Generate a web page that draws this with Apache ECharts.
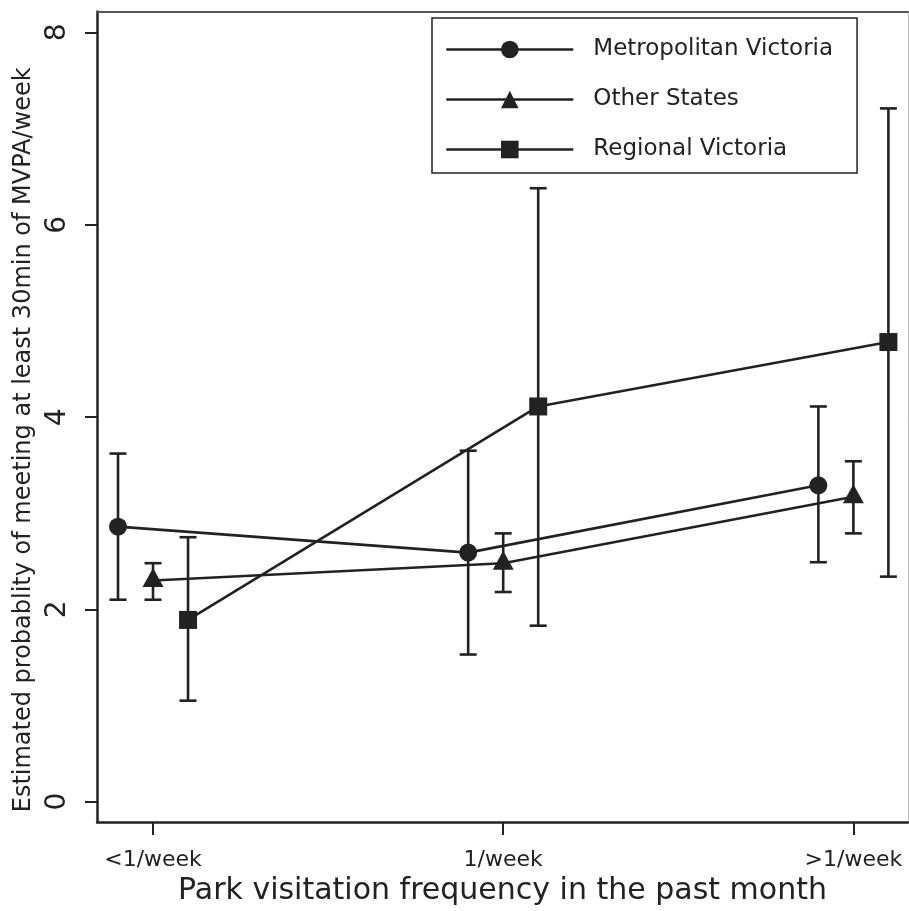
<!DOCTYPE html>
<html>
<head>
<meta charset="utf-8">
<script src="https://cdn.jsdelivr.net/npm/echarts@6/dist/echarts.min.js"></script>
<style>
  html, body { margin: 0; padding: 0; background: #fff; }
  #chart { width: 909px; height: 911px; }
</style>
</head>
<body>
<div id="chart"></div>
<script>
// ---- Data ----
const categories = ['<1/week', '1/week', '>1/week'];
const categoryPositions = [1, 2, 3];
const yTicks = [0, 2, 4, 6, 8];

const regionNames = ['Metropolitan Victoria', 'Other States', 'Regional Victoria'];
const regionOffsets = [-0.1, 0, 0.1];

const metroEst  = [2.86, 2.59, 3.29];
const metroLow  = [2.10, 1.53, 2.49];
const metroHigh = [3.62, 3.65, 4.11];

const otherEst  = [2.30, 2.48, 3.17];
const otherLow  = [2.10, 2.18, 2.79];
const otherHigh = [2.48, 2.79, 3.54];

const regionalEst  = [1.89, 4.11, 4.78];
const regionalLow  = [1.05, 1.83, 2.34];
const regionalHigh = [2.75, 6.38, 7.21];

const xAxisTitle = 'Park visitation frequency in the past month';
const yAxisTitle = 'Estimated probablity of meeting at least 30min of MVPA/week';

// ---- Build series ----
const INK = '#222';
const FONT = 'DejaVu Sans';
const ests = [metroEst, otherEst, regionalEst];
const lows = [metroLow, otherLow, regionalLow];
const highs = [metroHigh, otherHigh, regionalHigh];
const symbols = ['circle', 'triangle', 'rect'];
const symbolSizes = [18, [21, 19], 18];
const symbolOffsets = [[0, 0], [0, -3], [0, 0]];

const series = [];
regionNames.forEach((name, i) => {
  series.push({
    name: name + ' CI',
    type: 'custom',
    z: 2,
    silent: true,
    encode: { x: 0, y: [1, 2] },
    data: categoryPositions.map((c, k) => [c + regionOffsets[i], lows[i][k], highs[i][k]]),
    renderItem: (params, api) => {
      const x = api.value(0);
      const lo = api.coord([x, api.value(1)]);
      const hi = api.coord([x, api.value(2)]);
      const w = 8.5;
      const st = { stroke: INK, lineWidth: 2.6 };
      return {
        type: 'group',
        children: [
          { type: 'line', shape: { x1: lo[0], y1: lo[1], x2: hi[0], y2: hi[1] }, style: st },
          { type: 'line', shape: { x1: lo[0] - w, y1: lo[1], x2: lo[0] + w, y2: lo[1] }, style: st },
          { type: 'line', shape: { x1: hi[0] - w, y1: hi[1], x2: hi[0] + w, y2: hi[1] }, style: st }
        ]
      };
    }
  });
});
regionNames.forEach((name, i) => {
  series.push({
    name: name,
    type: 'line',
    z: 3,
    symbol: symbols[i],
    symbolSize: symbolSizes[i],
    symbolOffset: symbolOffsets[i],
    showSymbol: true,
    lineStyle: { color: INK, width: 2.6 },
    itemStyle: { color: INK },
    emphasis: { disabled: true },
    data: categoryPositions.map((c, k) => [c + regionOffsets[i], ests[i][k]])
  });
});

const xMin = 0.84, xMax = 3.156, yMin = -0.213, yMax = 8.218;

const chart = echarts.init(document.getElementById('chart'), null, { renderer: 'canvas' });
chart.setOption({
  animation: false,
  backgroundColor: '#fff',
  textStyle: { fontFamily: FONT, color: INK },
  grid: { left: 97, right: 1, top: 11.5, bottom: 87, containLabel: false },
  legend: {
    data: regionNames,
    orient: 'vertical',
    left: 432,
    top: 18,
    itemWidth: 127,
    itemHeight: 22,
    itemGap: 27,
    padding: [20, 24, 12, 13],
    borderColor: INK,
    borderWidth: 1.5,
    selectedMode: false,
    lineStyle: { width: 2.6, color: INK },
    textStyle: { fontFamily: FONT, fontSize: 23, color: INK, padding: [0, 0, 0, 15] }
  },
  xAxis: [
    {
      type: 'value',
      min: xMin,
      max: xMax,
      position: 'bottom',
      axisLine: { show: true, onZero: false, lineStyle: { color: INK, width: 2.5 } },
      axisTick: { show: true, length: 13, customValues: categoryPositions, lineStyle: { color: INK, width: 2 } },
      axisLabel: {
        customValues: categoryPositions,
        margin: 27,
        fontSize: 22,
        fontFamily: FONT,
        color: INK,
        formatter: v => categories[categoryPositions.indexOf(Math.round(v))] || ''
      },
      splitLine: { show: false },
      name: xAxisTitle,
      nameLocation: 'middle',
      nameGap: 48,
      nameTextStyle: { fontSize: 30, fontFamily: FONT, color: INK }
    },
    {
      type: 'value',
      min: xMin,
      max: xMax,
      position: 'top',
      axisLine: { show: true, onZero: false, lineStyle: { color: '#555', width: 2 } },
      axisTick: { show: false },
      axisLabel: { show: false },
      splitLine: { show: false }
    }
  ],
  yAxis: [
    {
      type: 'value',
      min: yMin,
      max: yMax,
      position: 'left',
      axisLine: { show: true, onZero: false, lineStyle: { color: INK, width: 2.5 } },
      axisTick: { show: true, length: 12, customValues: yTicks, lineStyle: { color: INK, width: 2 } },
      axisLabel: {
        customValues: yTicks,
        rotate: 90,
        margin: 25,
        fontSize: 28,
        fontFamily: FONT,
        color: INK
      },
      splitLine: { show: false },
      name: yAxisTitle,
      nameLocation: 'middle',
      nameRotate: 90,
      nameGap: 60,
      nameTextStyle: { fontSize: 24, fontFamily: FONT, color: INK, padding: [0, 46, 0, 0] }
    },
    {
      type: 'value',
      min: yMin,
      max: yMax,
      position: 'right',
      axisLine: { show: true, onZero: false, lineStyle: { color: '#bbb', width: 1 } },
      axisTick: { show: false },
      axisLabel: { show: false },
      splitLine: { show: false }
    }
  ],
  series: series
});
</script>
</body>
</html>
